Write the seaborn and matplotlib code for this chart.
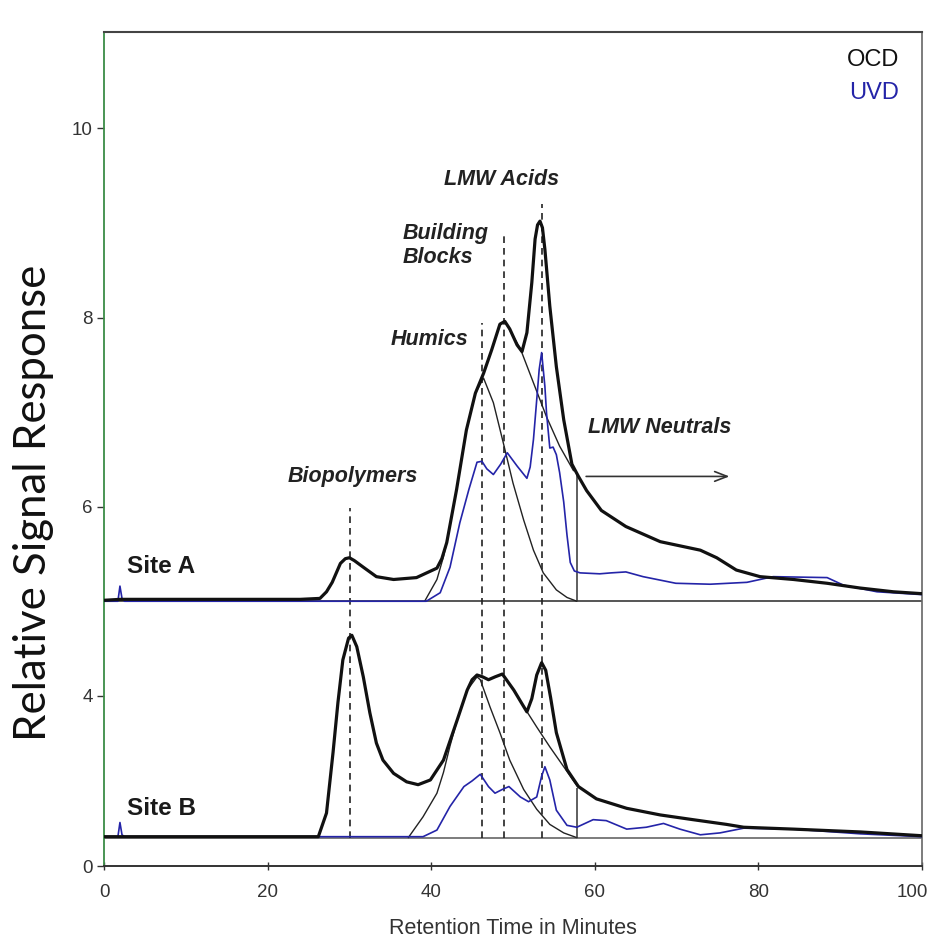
import matplotlib
matplotlib.use("Agg")
import matplotlib.pyplot as plt
import matplotlib.transforms as mtransforms
import seaborn as sns

# ---------------- data ----------------
# Site A, organic carbon detector (thick black)
a_ocd_t = [0, 2, 24, 26.4, 27.2, 27.9, 28.9, 29.5, 30.0, 30.6, 31.7, 33.3, 35.4, 38.2,
           40.7, 41.3, 41.9, 43.1, 44.3, 45.4, 46.4, 47.4, 48.4, 49.0, 49.6, 50.5,
           51.1, 51.7, 52.3, 52.7, 53.0, 53.3, 53.6, 53.9, 54.5, 55.3, 56.2, 57.2,
           58.0, 59.0, 60.8, 63.8, 68.0, 72.9, 74.9, 77.3, 80.2, 84.3, 88.4, 92.4,
           96.5, 100]
a_ocd_v = [5.01, 5.02, 5.02, 5.03, 5.10, 5.20, 5.40, 5.45, 5.46, 5.43, 5.36, 5.26, 5.23,
           5.25, 5.35, 5.45, 5.62, 6.18, 6.81, 7.20, 7.41, 7.66, 7.93, 7.96, 7.88,
           7.71, 7.64, 7.84, 8.37, 8.83, 8.98, 9.02, 8.95, 8.72, 8.12, 7.48, 6.92,
           6.45, 6.32, 6.17, 5.96, 5.79, 5.63, 5.54, 5.46, 5.33, 5.26, 5.23, 5.19,
           5.14, 5.10, 5.08]
# Site A, UV detector (blue)
a_uvd_t = [0, 1.7, 1.95, 2.2, 2.5, 39.4, 41.1, 42.3, 43.5, 44.6, 45.6, 46.2, 46.8,
           47.6, 48.5, 49.3, 50.5, 51.7, 52.1, 52.5, 52.9, 53.2, 53.5, 53.9, 54.1,
           54.5, 54.9, 55.3, 55.7, 56.2, 56.6, 57.0, 57.5, 58.2, 60.6, 62.0, 63.8,
           65.9, 69.9, 74.1, 78.6, 81.8, 88.4, 90.4, 94.5, 100]
a_uvd_v = [5.00, 5.00, 5.16, 5.03, 5.00, 5.00, 5.09, 5.36, 5.83, 6.18, 6.47, 6.48, 6.40,
           6.34, 6.45, 6.57, 6.43, 6.30, 6.42, 6.71, 7.13, 7.45, 7.63, 7.27, 6.99,
           6.62, 6.63, 6.55, 6.36, 6.05, 5.70, 5.41, 5.32, 5.30, 5.29, 5.30, 5.31,
           5.26, 5.19, 5.18, 5.20, 5.26, 5.25, 5.17, 5.10, 5.07]
# Site A fitted components (thin black)
a_hum_t = [39.2, 40.7, 41.5, 41.9, 43.1, 44.3, 45.4, 46.4, 47.6, 48.8, 50.0, 51.3,
           52.5, 53.7, 55.3, 56.6, 57.8]
a_hum_v = [5.00, 5.23, 5.47, 5.62, 6.18, 6.81, 7.20, 7.36, 7.10, 6.68, 6.25, 5.86,
           5.54, 5.30, 5.12, 5.04, 5.00]
a_bb_t = [48.4, 49.0, 50.9, 52.5, 54.1, 55.7, 57.4]
a_bb_v = [7.93, 7.96, 7.67, 7.31, 6.95, 6.64, 6.38]

# Site B, organic carbon detector (thick black)
b_ocd_t = [0, 26.2, 27.2, 28.0, 28.6, 29.2, 29.9, 30.3, 30.9, 31.7, 32.5, 33.3, 34.1,
           35.4, 37.0, 38.4, 39.9, 41.5, 43.2, 44.4, 45.0, 45.6, 46.3, 47.0, 47.8,
           48.7, 50.1, 51.0, 51.7, 52.3, 52.9, 53.5, 54.0, 54.6, 55.3, 56.6, 58.0,
           60.2, 63.9, 68.0, 72.0, 76.1, 78.2, 84.3, 92.5, 100]
b_ocd_v = [2.51, 2.51, 2.76, 3.40, 3.93, 4.38, 4.61, 4.64, 4.52, 4.20, 3.82, 3.50, 3.32,
           3.18, 3.09, 3.06, 3.11, 3.32, 3.75, 4.06, 4.17, 4.22, 4.20, 4.17, 4.20,
           4.23, 4.06, 3.93, 3.83, 3.97, 4.22, 4.35, 4.27, 3.98, 3.61, 3.22, 3.04,
           2.91, 2.81, 2.74, 2.69, 2.64, 2.61, 2.59, 2.56, 2.52]
# Site B, UV detector (blue)
b_uvd_t = [0, 1.7, 1.95, 2.2, 2.5, 39.0, 40.7, 42.3, 44.0, 45.0, 46.0, 47.0, 47.8, 48.7,
           49.5, 50.9, 51.9, 52.9, 53.5, 53.9, 54.5, 55.3, 56.6, 57.8, 59.8, 61.4,
           63.9, 66.3, 68.4, 70.4, 72.9, 75.3, 78.2, 84.3, 92.5, 100]
b_uvd_v = [2.51, 2.51, 2.66, 2.53, 2.51, 2.51, 2.58, 2.83, 3.04, 3.10, 3.17, 3.04, 2.97,
           3.01, 3.04, 2.93, 2.88, 2.93, 3.15, 3.25, 3.11, 2.79, 2.63, 2.61, 2.69,
           2.68, 2.59, 2.61, 2.65, 2.59, 2.53, 2.55, 2.60, 2.59, 2.54, 2.51]
# Site B fitted components (thin black)
b_hum_t = [37.2, 39.0, 40.7, 41.5, 42.3, 43.2, 44.4, 45.6, 46.0, 47.2, 48.4, 49.6,
           51.3, 52.9, 54.5, 56.2, 57.8]
b_hum_v = [2.50, 2.72, 2.97, 3.19, 3.47, 3.75, 4.06, 4.20, 4.17, 3.88, 3.61, 3.32,
           3.01, 2.80, 2.64, 2.55, 2.50]
b_bb_t = [48.7, 50.1, 51.5, 52.9, 54.5, 56.2, 57.4, 57.9]
b_bb_v = [4.23, 4.06, 3.86, 3.67, 3.46, 3.25, 3.10, 3.04]

# baselines / cut-off line
baseline_a = 5.0
baseline_b = 2.5
cut_time = 57.8
cut_top_a = 6.34
cut_top_b = 3.03

# fraction markers (dashed lines)
frac_names = ["Biopolymers", "Humics", "Building\nBlocks", "LMW Acids", "LMW Neutrals"]
frac_times = [30.1, 46.2, 48.9, 53.5]
frac_tops = [5.99, 7.94, 8.86, 9.20]
label_x = [30.4, 35.0, 36.5, 48.6, 59.2]
label_y = [6.32, 7.77, 8.76, 9.46, 6.84]
label_ha = ["center", "left", "left", "center", "left"]
arrow_from = (58.6, 6.32)
arrow_to = (76.8, 6.32)

site_names = ["Site A", "Site B"]
site_label_x = [2.8, 2.8]
site_label_y = [5.37, 2.81]

detector_names = ["OCD", "UVD"]
detector_y = [10.72, 10.37]

# axis (the reference's axis is pieced together: "0" sits at the x-axis)
x_ticks = [0, 20, 40, 60, 80, 100]
y_tick_pos = [2.2, 4, 6, 8, 10]
y_tick_labels = ["0", "4", "6", "8", "10"]

# ---------------- styling ----------------
sns.set_style("white")
plt.rcParams["font.family"] = ["Liberation Sans", "DejaVu Sans"]

BLUE = "#2424a8"
fig = plt.figure(figsize=(9.36, 9.47), dpi=100)
ax = fig.add_axes([104 / 936, 81 / 947, 818 / 936, 834 / 947])

# component (thin) curves first
for t, v in [(a_hum_t, a_hum_v), (a_bb_t, a_bb_v), (b_hum_t, b_hum_v), (b_bb_t, b_bb_v)]:
    sns.lineplot(x=t, y=v, ax=ax, color="#222222", lw=1.0, estimator=None)

# baseline separators
ax.axhline(baseline_a, color="#555555", lw=1.4, zorder=1)
ax.axhline(baseline_b, color="#666666", lw=1.2, zorder=1)

# cut-off vertical lines
ax.vlines(cut_time, baseline_a, cut_top_a, color="#333333", lw=1.1)
ax.vlines(cut_time, baseline_b, cut_top_b, color="#333333", lw=1.1)

# dashed fraction lines
ax.vlines(frac_times, baseline_b, frac_tops, color="#222222", lw=1.2,
          linestyles=(0, (4.0, 3.0)), zorder=2)

# UVD (blue) then OCD (thick black)
sns.lineplot(x=a_uvd_t, y=a_uvd_v, ax=ax, color=BLUE, lw=1.2, estimator=None, zorder=3)
sns.lineplot(x=b_uvd_t, y=b_uvd_v, ax=ax, color=BLUE, lw=1.2, estimator=None, zorder=3)
sns.lineplot(x=a_ocd_t, y=a_ocd_v, ax=ax, color="#111111", lw=2.3, estimator=None, zorder=4)
sns.lineplot(x=b_ocd_t, y=b_ocd_v, ax=ax, color="#111111", lw=2.3, estimator=None, zorder=4)

# small blue artefact crossing the x-axis near 58 min
sns.lineplot(x=[57.6, 58.2, 58.8], y=[2.19, 2.16, 2.19], ax=ax, color=BLUE, lw=1.3,
             estimator=None)

# fraction labels
for name, x, y, ha in zip(frac_names, label_x, label_y, label_ha):
    ax.text(x, y, name, ha=ha, va="center", fontsize=15.5, fontweight="bold",
            fontstyle="italic", color="#222222", linespacing=1.2)
ax.annotate("", xy=arrow_to, xytext=arrow_from,
            arrowprops=dict(arrowstyle="->,head_length=0.9,head_width=0.35",
                            color="#333333", lw=1.2))

# site labels
for name, x, y in zip(site_names, site_label_x, site_label_y):
    ax.text(x, y, name, ha="left", va="center", fontsize=17.5, fontweight="bold",
            color="#1a1a1a")

# detector legend text
for name, y, c in zip(detector_names, detector_y, ["#111111", BLUE]):
    ax.text(97.2, y, name, ha="right", va="center", fontsize=17, color=c)

# axes
ax.set_xlim(0, 100)
ax.set_ylim(2.2, 11.02)
ax.set_xticks(x_ticks)
ax.set_xticklabels([str(v) for v in x_ticks])
ax.set_yticks(y_tick_pos)
ax.set_yticklabels(y_tick_labels)
ax.tick_params(axis="both", labelsize=13.5, labelcolor="#333333", color="#333333",
               length=6, width=1.0, direction="inout", left=True, bottom=True)
ax.tick_params(axis="y", direction="out", length=5, pad=3)
ax.tick_params(axis="x", pad=10)
# the last x label sits a little left of its tick, as in the reference
last = ax.get_xticklabels()[-1]
last.set_transform(last.get_transform() +
                   mtransforms.ScaledTranslation(-10 / 100, 0, fig.dpi_scale_trans))
for side, col, lw in [("left", "#3c8c46", 1.3), ("top", "#444444", 1.5),
                      ("right", "#666666", 1.2), ("bottom", "#333333", 1.4)]:
    ax.spines[side].set_color(col)
    ax.spines[side].set_linewidth(lw)
    ax.spines[side].set_visible(True)

ax.set_xlabel("Retention Time in Minutes", fontsize=15.5, color="#333333", labelpad=12)
ax.set_ylabel("")
fig.text(0.036, 0.469, "Relative Signal Response", rotation=90, ha="center",
         va="center", fontsize=31.5, family=["Lato", "DejaVu Sans"], color="#111111")

fig.savefig("out.png", dpi=100)
